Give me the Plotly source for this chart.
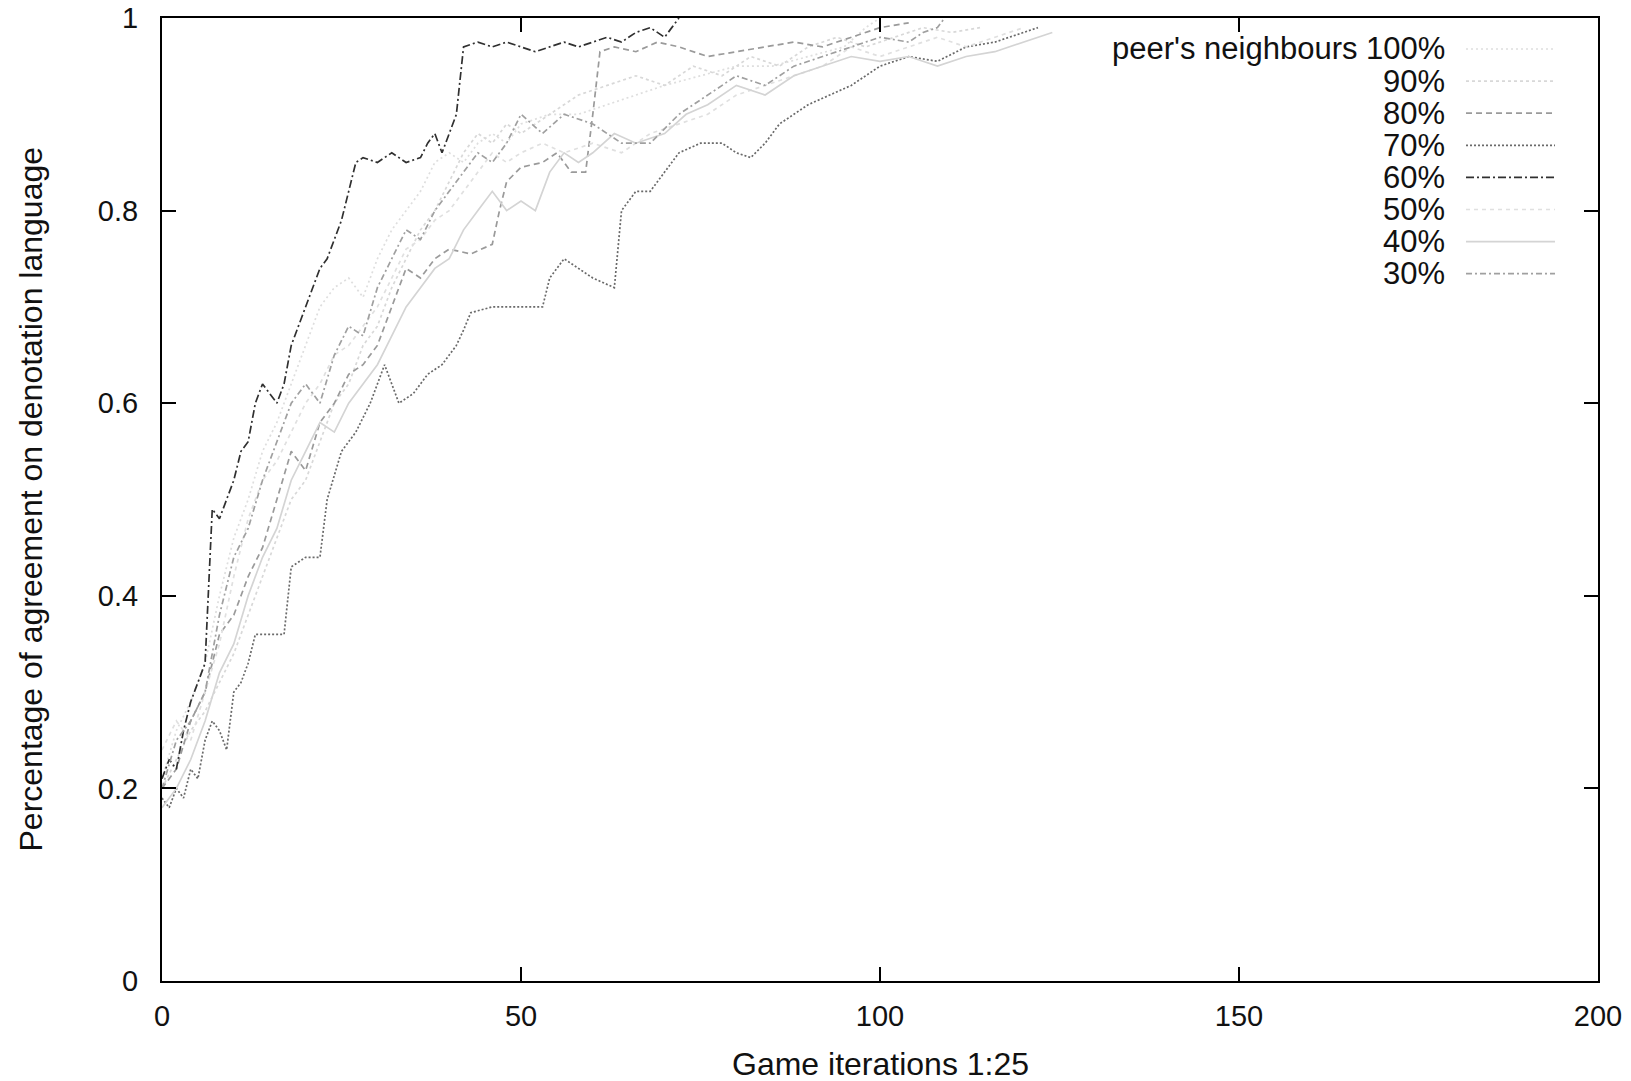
import plotly.graph_objects as go

# ---------------- data ----------------
labels = ["peer's neighbours 100%", "90%", "80%", "70%", "60%", "50%", "40%", "30%"]

x_100 = list(range(0, 51, 2)) + [54, 58, 62, 66, 70, 75, 80, 85, 90, 95, 98, 100]
y_100 = [0.21, 0.26, 0.29, 0.33, 0.40, 0.46, 0.50, 0.55, 0.58, 0.62,
         0.66, 0.70, 0.72, 0.73, 0.71, 0.75, 0.78, 0.80, 0.82, 0.85,
         0.86, 0.85, 0.87, 0.88, 0.87, 0.89,
         0.90, 0.90, 0.91, 0.92, 0.93, 0.94, 0.95, 0.95, 0.96, 0.97, 0.99, 1.0]

x_90 = list(range(0, 51, 2)) + [54, 58, 62, 66, 70, 74, 78, 82, 86, 90, 94, 98, 102, 106, 110, 114]
y_90 = [0.20, 0.23, 0.26, 0.28, 0.31, 0.34, 0.38, 0.42, 0.46, 0.50,
        0.52, 0.56, 0.60, 0.62, 0.66, 0.68, 0.72, 0.75, 0.78, 0.80,
        0.83, 0.86, 0.88, 0.87, 0.89, 0.88,
        0.90, 0.92, 0.93, 0.94, 0.93, 0.95, 0.94, 0.96, 0.95, 0.97, 0.98, 0.97, 0.98, 0.99, 0.985, 0.99]

x_80 = list(range(0, 41, 2)) + [43, 46, 47, 48, 50, 53, 55, 57, 59, 60, 61, 63, 66, 69, 72, 76, 80, 84, 88, 92, 96, 100, 104]
y_80 = [0.20, 0.22, 0.27, 0.30, 0.36, 0.38, 0.42, 0.45, 0.50, 0.55, 0.53,
        0.58, 0.60, 0.63, 0.64, 0.66, 0.70, 0.74, 0.73, 0.75, 0.76,
        0.755, 0.765, 0.80, 0.83, 0.845, 0.85, 0.86, 0.84, 0.84, 0.90, 0.965,
        0.97, 0.965, 0.975, 0.97, 0.96, 0.965, 0.97, 0.975, 0.97, 0.98, 0.99, 0.995]

x_70 = list(range(0, 14)) + [15, 17, 18, 20, 22, 23, 25, 27, 29, 31, 33, 35, 37, 39, 41, 42, 43, 46, 50, 53,
                             54, 56, 58, 60, 63, 64, 66, 68, 70, 72, 75, 78, 80, 82, 84, 86, 88, 90, 93, 96,
                             100, 104, 108, 112, 116, 120, 122]
y_70 = [0.19, 0.18, 0.20, 0.19, 0.22, 0.21, 0.25, 0.27, 0.26, 0.24, 0.30, 0.31, 0.33, 0.36,
        0.36, 0.36, 0.43, 0.44, 0.44, 0.50, 0.55, 0.57, 0.60, 0.64, 0.60, 0.61, 0.63, 0.64, 0.66,
        0.676, 0.694, 0.70, 0.70, 0.70, 0.73, 0.75, 0.74, 0.73, 0.72, 0.80, 0.82, 0.82, 0.84, 0.86,
        0.87, 0.87, 0.86, 0.855, 0.87, 0.89, 0.90, 0.91, 0.92, 0.93, 0.95, 0.96, 0.955, 0.97, 0.975,
        0.985, 0.99]

x_60 = list(range(0, 29)) + [30, 32, 34, 36, 37, 38, 39, 40, 41, 42] + list(range(44, 71, 2)) + [71, 72]
y_60 = [0.21, 0.23, 0.22, 0.26, 0.29, 0.31, 0.33, 0.49, 0.48, 0.50, 0.52, 0.55, 0.56, 0.60, 0.62,
        0.61, 0.60, 0.62, 0.66, 0.68, 0.70, 0.72, 0.74, 0.75, 0.77, 0.79, 0.82, 0.85, 0.855,
        0.85, 0.86, 0.85, 0.855, 0.87, 0.88, 0.86, 0.88, 0.90, 0.97,
        0.975, 0.97, 0.975, 0.97, 0.965, 0.97, 0.975, 0.97, 0.975, 0.98, 0.975, 0.985, 0.99, 0.98,
        0.99, 1.0]

x_50 = list(range(0, 51, 2)) + [53, 56, 60, 64, 68, 72, 76, 80, 84, 88, 92, 96, 100, 104, 108, 112, 116, 120]
y_50 = [0.24, 0.27, 0.25, 0.30, 0.35, 0.42, 0.48, 0.52, 0.54, 0.57,
        0.60, 0.62, 0.65, 0.66, 0.68, 0.70, 0.73, 0.76, 0.77, 0.79,
        0.80, 0.82, 0.84, 0.86, 0.85, 0.86,
        0.87, 0.86, 0.87, 0.86, 0.88, 0.89, 0.90, 0.92, 0.93, 0.94, 0.95, 0.97, 0.96, 0.97, 0.98,
        0.97, 0.98, 0.99]

x_40 = list(range(0, 61, 2)) + [63, 66, 70, 73, 76, 80, 84, 88, 92, 96, 100, 104, 108, 112, 116, 120, 124]
y_40 = [0.18, 0.20, 0.23, 0.27, 0.32, 0.35, 0.40, 0.44, 0.47, 0.52,
        0.55, 0.58, 0.57, 0.60, 0.62, 0.64, 0.67, 0.70, 0.72, 0.74,
        0.75, 0.78, 0.80, 0.82, 0.80, 0.81, 0.80, 0.84, 0.86, 0.85, 0.86,
        0.88, 0.87, 0.88, 0.90, 0.91, 0.93, 0.92, 0.94, 0.95, 0.96, 0.955, 0.96, 0.95, 0.96, 0.965,
        0.975, 0.985]

x_30 = list(range(0, 51, 2)) + [53, 56, 60, 64, 68, 72, 76, 80, 84, 88, 92, 96, 100, 104, 106, 108, 109]
y_30 = [0.20, 0.25, 0.27, 0.30, 0.38, 0.44, 0.47, 0.52, 0.56, 0.60,
        0.62, 0.60, 0.65, 0.68, 0.67, 0.72, 0.75, 0.78, 0.77, 0.80,
        0.82, 0.84, 0.86, 0.85, 0.87, 0.90,
        0.88, 0.90, 0.89, 0.87, 0.87, 0.90, 0.92, 0.94, 0.93, 0.95, 0.96, 0.97, 0.98, 0.975,
        0.985, 0.99, 1.0]

x_ticks = [0, 50, 100, 150, 200]
y_ticks = [0, 0.2, 0.4, 0.6, 0.8, 1]
y_tick_text = ["0", "0.2", "0.4", "0.6", "0.8", "1"]

x_title = "Game iterations 1:25"
y_title = "Percentage of agreement on denotation language"

# ---------------- styles ----------------
xs = [x_100, x_90, x_80, x_70, x_60, x_50, x_40, x_30]
ys = [y_100, y_90, y_80, y_70, y_60, y_50, y_40, y_30]
colors = ["#dedede", "#d8d8d8", "#9a9a9a", "#6a6a6a", "#303030", "#e0e0e0", "#d4d4d4", "#a0a0a0"]
dashes = ["2px,3px", "3px,3px", "6px,4px", "2px,2px", "8px,3px,2px,3px", "4px,4px", "solid", "6px,3px,2px,3px"]

FONT = "Liberation Sans, Arial, Helvetica, sans-serif"

fig = go.Figure()
for x, y, c, d, name in zip(xs, ys, colors, dashes, labels):
    fig.add_trace(go.Scatter(x=x, y=y, mode="lines", name=name,
                             line=dict(color=c, width=1.7, dash=d), showlegend=False))

# plot-area geometry (pixels)
L, R, T, B = 162, 1598, 18, 981
W, H = 1631, 1081


def px_x(p):
    return (p - L) / (R - L)


def px_y(p):
    return 1 - (p - T) / (B - T)


annotations = []
shapes = []
row0, row_dy = 49, 32.1
for i, (name, c, d) in enumerate(zip(labels, colors, dashes)):
    yy = px_y(row0 + i * row_dy)
    annotations.append(dict(x=px_x(1447), y=yy, xref="paper", yref="paper", text=name,
                            showarrow=False, xanchor="right", yanchor="middle",
                            font=dict(family=FONT, size=31, color="#111")))
    shapes.append(dict(type="line", xref="paper", yref="paper",
                       x0=px_x(1466), x1=px_x(1555), y0=yy, y1=yy,
                       line=dict(color=c, width=1.7, dash=d)))

annotations.append(dict(x=0.5, y=px_y(1064), xref="paper", yref="paper", text=x_title,
                        showarrow=False, xanchor="center", yanchor="middle",
                        font=dict(family=FONT, size=32, color="#111")))
annotations.append(dict(x=px_x(30), y=0.5, xref="paper", yref="paper", text=y_title,
                        showarrow=False, xanchor="center", yanchor="middle", textangle=-90,
                        font=dict(family=FONT, size=32, color="#111")))

axis_common = dict(showgrid=False, zeroline=False, showline=True, linecolor="black", linewidth=2,
                   mirror="allticks", ticks="inside", ticklen=14, tickwidth=2, tickcolor="black",
                   tickfont=dict(family=FONT, size=29, color="#111"))

fig.update_layout(
    width=W, height=H,
    margin=dict(l=L, r=W - R, t=T, b=H - B, autoexpand=False),
    paper_bgcolor="white", plot_bgcolor="white",
    xaxis=dict(range=[0, 200], tickvals=x_ticks, ticklabelstandoff=8, **axis_common),
    yaxis=dict(range=[0, 1], tickvals=y_ticks, ticktext=y_tick_text, ticklabelstandoff=16, **axis_common),
    annotations=annotations, shapes=shapes,
)

fig.write_html("out.html", config={"displayModeBar": False},
               post_script="document.body.style.margin='0';")
